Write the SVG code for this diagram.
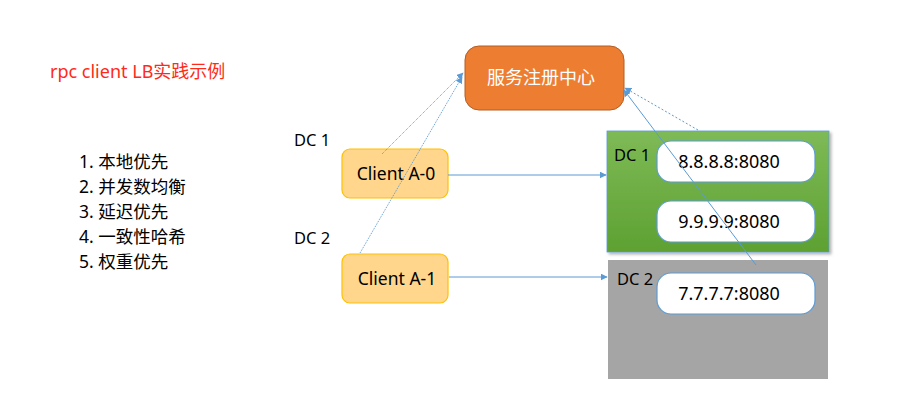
<svg xmlns="http://www.w3.org/2000/svg" width="911" height="419" viewBox="0 0 911 419">
<style>
text{font-family:"Noto Sans","Noto Sans CJK SC",sans-serif;}
.lbl{font-size:16.5px;fill:#000;}
.cl{font-size:17.5px;fill:#000;}
.sv{font-size:18px;fill:#000;}
.srv{fill:#fff;stroke:#5B9BD5;stroke-width:1.2;}
.cli{fill:#FFD68C;stroke:#FFC000;stroke-width:1.2;}
.ln{fill:none;stroke:#5B9BD5;stroke-width:1;}
</style>
<defs>
<linearGradient id="g" x1="0" y1="0" x2="0" y2="1">
<stop offset="0" stop-color="#7EBA56"/>
<stop offset="1" stop-color="#5EA132"/>
</linearGradient>
<marker id="ar" viewBox="0 0 10 10" refX="9" refY="5" markerWidth="7" markerHeight="7" orient="auto" markerUnits="userSpaceOnUse">
<path d="M0,0 L10,5 L0,10 z" fill="#5B9BD5"/>
</marker>
<filter id="sh" x="-5%" y="-5%" width="115%" height="115%">
<feDropShadow dx="2" dy="2" stdDeviation="1.5" flood-color="#000" flood-opacity="0.3"/>
</filter>
</defs>
<rect width="911" height="419" fill="#fff"/>
<text x="50" y="78" font-size="18" fill="#FF2A1A">rpc client LB实践示例</text>
<g id="list" font-size="17.5">
<text x="79" y="168">1. 本地优先</text>
<text x="79" y="193">2. 并发数均衡</text>
<text x="79" y="218">3. 延迟优先</text>
<text x="79" y="243">4. 一致性哈希</text>
<text x="79" y="268">5. 权重优先</text>
</g>
<text class="lbl" x="294" y="146">DC 1</text>
<text class="lbl" x="294" y="244">DC 2</text>
<g id="registry">
<rect x="465" y="46" width="159" height="64" rx="14" fill="#ED7D31" stroke="#B25E24" stroke-width="1"/>
<text x="541" y="84" font-size="18" fill="#fff" text-anchor="middle">服务注册中心</text>
</g>
<g id="clientA0">
<rect class="cli" x="342" y="149" width="106" height="49" rx="8"/>
<text class="cl" x="396" y="180" text-anchor="middle">Client A-0</text>
</g>
<g id="clientA1">
<rect class="cli" x="342" y="254" width="106" height="49" rx="8"/>
<text class="cl" x="397" y="285" text-anchor="middle">Client A-1</text>
</g>
<g id="dc1">
<rect x="607" y="131" width="222" height="121" fill="url(#g)" stroke="#5B9BD5" stroke-width="0.8" filter="url(#sh)"/>
<text class="lbl" x="614" y="161">DC 1</text>
</g>
<g id="dc2">
<rect x="608" y="260" width="220" height="119" fill="#A5A5A5"/>
<text class="lbl" x="617" y="285">DC 2</text>
</g>
<g id="s8888">
<rect class="srv" x="657" y="141" width="158" height="41" rx="14"/>
<text class="sv" x="729" y="168" text-anchor="middle">8.8.8.8:8080</text>
</g>
<g id="s9999">
<rect class="srv" x="657" y="201" width="158" height="41" rx="14"/>
<text class="sv" x="729" y="228" text-anchor="middle">9.9.9.9:8080</text>
</g>
<g id="s7777">
<rect class="srv" x="657" y="273" width="158" height="41" rx="14"/>
<text class="sv" x="729" y="300" text-anchor="middle">7.7.7.7:8080</text>
</g>
<g id="connectors">
<line class="ln" x1="382" y1="154" x2="463" y2="73" stroke-dasharray="1,1" marker-end="url(#ar)"/>
<line class="ln" x1="360" y1="253" x2="462" y2="77" stroke-dasharray="1,1" marker-end="url(#ar)"/>
<line class="ln" x1="448" y1="175" x2="606" y2="175" marker-end="url(#ar)"/>
<line class="ln" x1="449" y1="277" x2="607" y2="277" marker-end="url(#ar)"/>
<line class="ln" x1="698" y1="130" x2="625" y2="88" stroke-width="2" stroke-dasharray="2,2" marker-end="url(#ar)"/>
<line class="ln" x1="756" y1="265" x2="624" y2="90" stroke-width="0.8" marker-end="url(#ar)"/>
</g>
</svg>
